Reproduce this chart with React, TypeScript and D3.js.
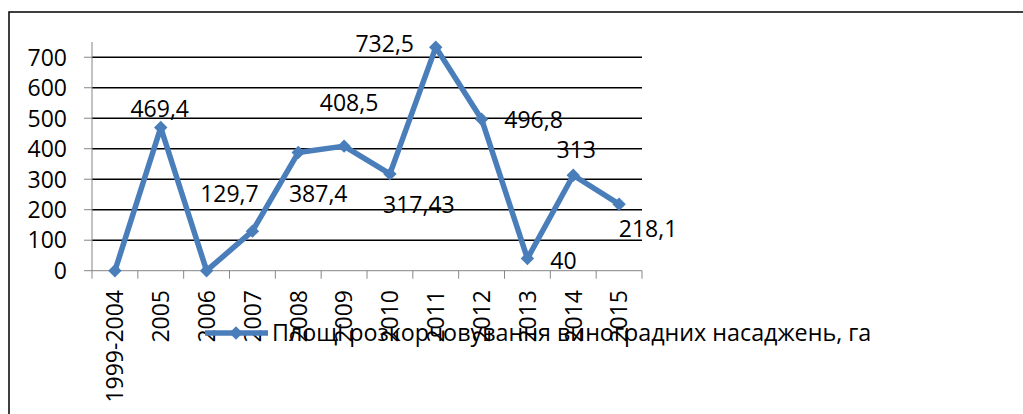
import React from 'react';
import * as d3 from 'd3';

const categories = ['1999-2004', '2005', '2006', '2007', '2008', '2009', '2010', '2011', '2012', '2013', '2014', '2015'];
const areaValues = [0, 469.4, 0, 129.7, 387.4, 408.5, 317.43, 732.5, 496.8, 40, 313, 218.1];
const yTicks = [0, 100, 200, 300, 400, 500, 600, 700];
const seriesName = 'Площі розкорчовування виноградних насаджень, га';

// where each data label sits relative to its point (hand placed in the original)
const labelOffsets: [number, number][] = [
  [0, 0], [-1, -11], [0, 0], [-23, -29], [20, 49], [5, -35],
  [29, 39], [-51, 5], [52, 9], [36, 10], [3, -17], [29, 33],
];

const width = 1023;
const height = 414;
const blue = '#4A7EBB';
const font = '"Open Sans", "Liberation Sans", Arial, sans-serif';
const fs = 23;

const diamond = d3.symbol().type(d3.symbolDiamond2).size(115);

const App = () => {
  const x = d3.scaleBand().domain(categories).range([92, 642]);
  const y = d3.scaleLinear().domain([0, 750]).range([270.7, 42]);

  const line = d3.line<number>()
    .x((_, i) => x(categories[i])! + x.bandwidth() / 2)
    .y(d => y(d));

  const fmt = (v: number) => String(v).replace('.', ',');

  return (
    <svg width={width} height={height} style={{ position: 'absolute', left: 0, top: 0 }}
      fontFamily={font}>
      <rect width={width} height={height} fill="#fff" />
      {/* chart frame, only top and left are in view */}
      <path d={`M9,${height} V12 H${width}`} fill="none" stroke="#000" strokeWidth={1.5} />

      {/* gridlines */}
      {yTicks.filter(t => t > 0).map(t => (
        <line key={t} x1={92} x2={642} y1={y(t)} y2={y(t)} stroke="#000" strokeWidth={1.6} />
      ))}

      {/* y axis */}
      <line x1={92} x2={92} y1={y(750)} y2={y(0)} stroke="#868686" strokeWidth={1} />
      {yTicks.map(t => (
        <g key={t}>
          <line x1={84} x2={92} y1={y(t)} y2={y(t)} stroke="#868686" />
          <text x={67} y={y(t)} dy="0.36em" textAnchor="end" fontSize={fs}>{t}</text>
        </g>
      ))}

      {/* x axis */}
      <line x1={92} x2={642} y1={y(0)} y2={y(0)} stroke="#868686" />
      {categories.map(c => (
        <line key={c} x1={x(c)} x2={x(c)} y1={y(0)} y2={y(0) + 8} stroke="#868686" />
      ))}
      <line x1={642} x2={642} y1={y(0)} y2={y(0) + 8} stroke="#868686" />
      {categories.map(c => {
        const cx = x(c)! + x.bandwidth() / 2;
        return (
          <text key={c} transform={`translate(${cx},290) rotate(-90)`} dy="0.36em"
            textAnchor="end" fontSize={fs}>{c}</text>
        );
      })}

      {/* series */}
      <path d={line(areaValues)!} fill="none" stroke={blue} strokeWidth={5.5} strokeLinejoin="round" />
      {areaValues.map((v, i) => (
        <path key={i} d={diamond()!} fill={blue}
          transform={`translate(${x(categories[i])! + x.bandwidth() / 2},${y(v)})`} />
      ))}
      {areaValues.map((v, i) => v === 0 ? null : (
        <text key={i} x={x(categories[i])! + x.bandwidth() / 2 + labelOffsets[i][0]}
          y={y(v) + labelOffsets[i][1]} textAnchor="middle" fontSize={fs}>{fmt(v)}</text>
      ))}

      {/* legend */}
      <line x1={205} x2={268} y1={333} y2={333} stroke={blue} strokeWidth={5.5} />
      <path d={diamond()!} fill={blue} transform="translate(236,333)" />
      <text x={272} y={333} dy="0.36em" fontSize={23.3}>{seriesName}</text>
    </svg>
  );
};

export default App;
